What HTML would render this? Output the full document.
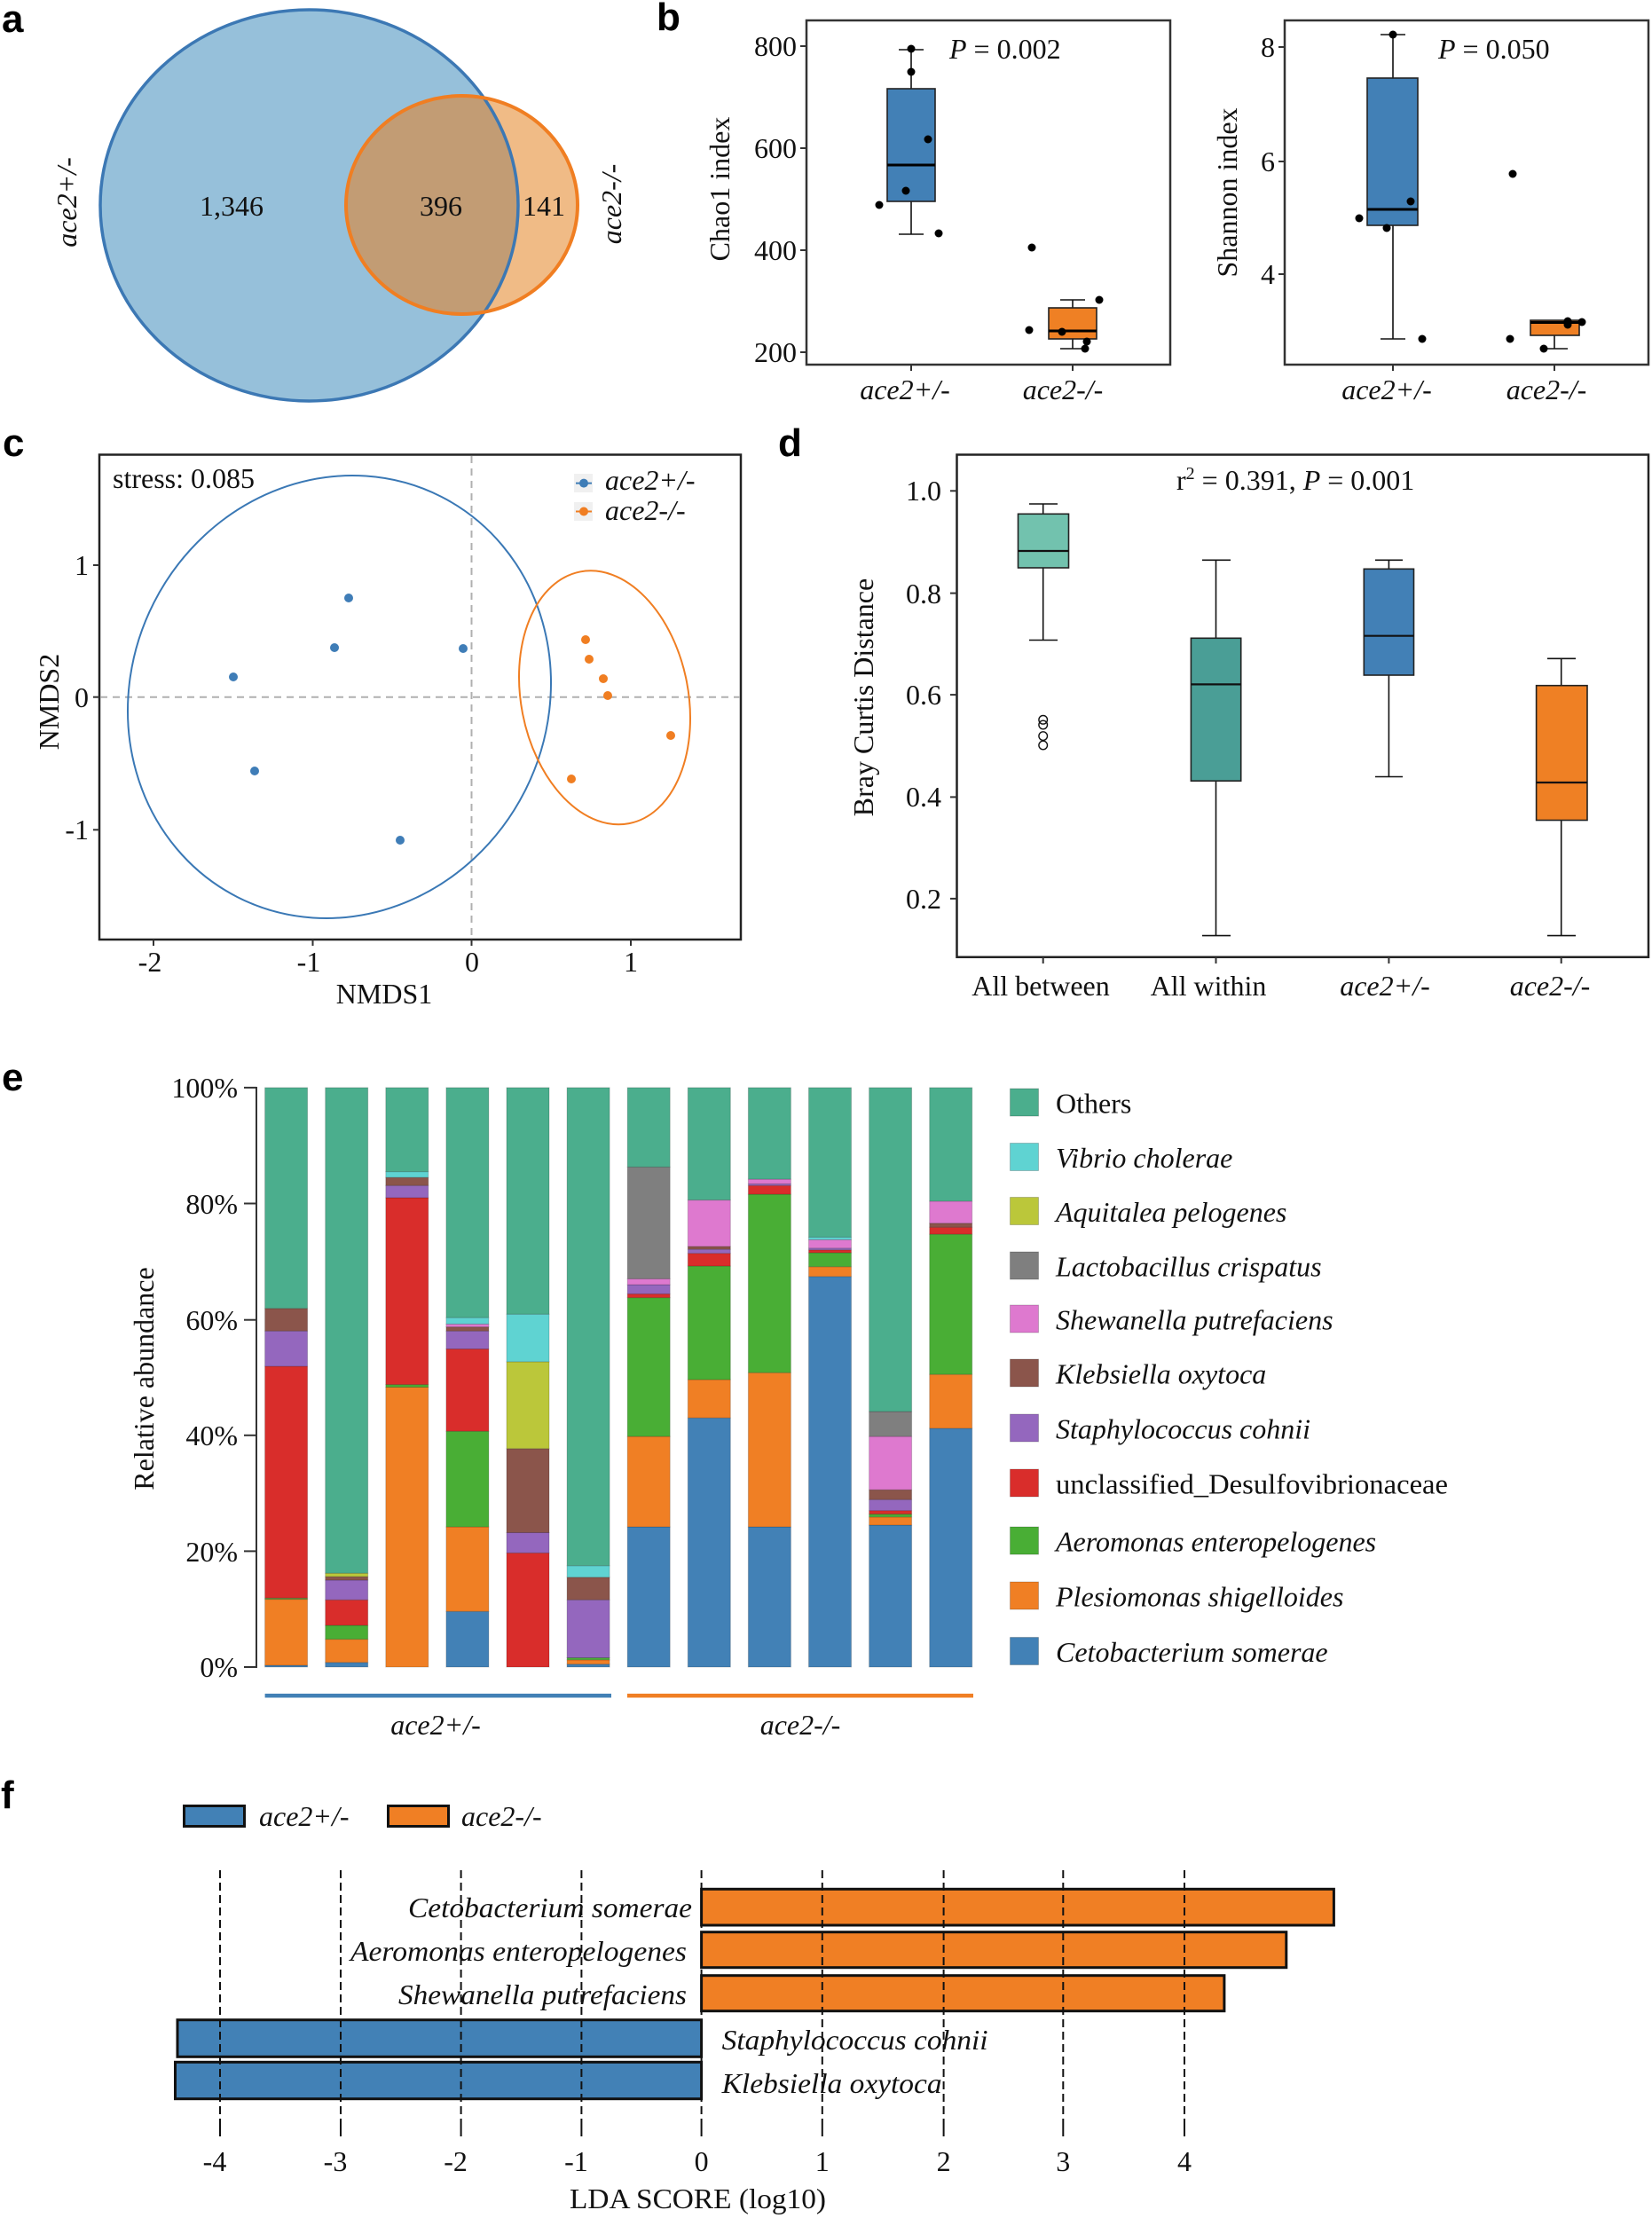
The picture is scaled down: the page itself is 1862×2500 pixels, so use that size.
<!DOCTYPE html>
<html><head><meta charset="utf-8"><style>
html,body{margin:0;padding:0;background:#fff;}
svg{display:block;}
text{font-family:"Liberation Serif",serif;font-size:32px;fill:#111;}
.lab{font-family:"Liberation Sans",sans-serif;font-weight:bold;font-size:44px;fill:#000;}
.it{font-style:italic;}
.C{fill:#4281B6}.P{fill:#F07F24}.Ae{fill:#49AE35}.U{fill:#D92D2B}.St{fill:#9467BE}.K{fill:#8B554B}
.S{fill:#DE79CF}.L{fill:#7F7F7F}.A{fill:#BBC73A}.V{fill:#5FD3D2}.O{fill:#4BAE8D}
.bar rect{stroke:rgba(0,0,0,0.18);stroke-width:1;vector-effect:non-scaling-stroke;}
</style></head><body>
<svg width="1862" height="2500" viewBox="0 0 1862 2500" xmlns="http://www.w3.org/2000/svg">
<defs>
<clipPath id="bigc"><ellipse cx="348.5" cy="231.5" rx="235.5" ry="220.5"/></clipPath>
</defs>

<!-- Panel a -->
<text class="lab" x="2" y="36">a</text>
<ellipse cx="348.5" cy="231.5" rx="235.5" ry="220.5" fill="#96C0DA"/>
<ellipse cx="520.5" cy="231" rx="130.5" ry="123" fill="#F0BB86"/>
<ellipse cx="520.5" cy="231" rx="130.5" ry="123" fill="#C29C74" clip-path="url(#bigc)"/>
<ellipse cx="348.5" cy="231.5" rx="235.5" ry="220.5" fill="none" stroke="#3C78B4" stroke-width="3.5"/>
<ellipse cx="520.5" cy="231" rx="130.5" ry="123" fill="none" stroke="#F07E22" stroke-width="4"/>
<text x="261" y="243" text-anchor="middle" font-size="35">1,346</text>
<text x="497" y="243" text-anchor="middle" font-size="35">396</text>
<text x="613" y="243" text-anchor="middle" font-size="35">141</text>
<text class="it" transform="translate(86,228) rotate(-90)" text-anchor="middle">ace2+/-</text>
<text class="it" transform="translate(700,230) rotate(-90)" text-anchor="middle">ace2-/-</text>

<!-- Panel b -->
<text class="lab" x="740" y="34">b</text>
<rect x="909" y="23" width="410" height="388" fill="none" stroke="#333" stroke-width="2.5"/>
<g stroke="#333" stroke-width="2">
<line x1="902" y1="52" x2="909" y2="52"/><line x1="902" y1="167" x2="909" y2="167"/>
<line x1="902" y1="282" x2="909" y2="282"/><line x1="902" y1="397" x2="909" y2="397"/>
<line x1="1027" y1="411" x2="1027" y2="418"/><line x1="1209" y1="411" x2="1209" y2="418"/>
</g>
<g text-anchor="end">
<text x="898" y="63">800</text><text x="898" y="178">600</text><text x="898" y="293">400</text><text x="898" y="408">200</text>
</g>
<text transform="translate(822,213) rotate(-90)" text-anchor="middle" font-size="33">Chao1 index</text>
<g stroke="#111" stroke-width="1.6">
<line x1="1027" y1="56" x2="1027" y2="100"/><line x1="1027" y1="227" x2="1027" y2="264"/>
<line x1="1013" y1="56" x2="1041" y2="56"/><line x1="1013" y1="264" x2="1041" y2="264"/>
<line x1="1209" y1="338" x2="1209" y2="347"/><line x1="1209" y1="382" x2="1209" y2="393"/>
<line x1="1195" y1="338" x2="1223" y2="338"/><line x1="1195" y1="393" x2="1223" y2="393"/>
</g>
<rect x="1000" y="100" width="54" height="127" fill="#4280B6" stroke="#222" stroke-width="1.6"/>
<line x1="1000" y1="186" x2="1054" y2="186" stroke="#000" stroke-width="3"/>
<rect x="1182" y="347" width="54" height="35" fill="#EF8024" stroke="#222" stroke-width="1.6"/>
<line x1="1182" y1="373" x2="1236" y2="373" stroke="#000" stroke-width="3"/>
<g fill="#000">
<circle cx="1027" cy="55" r="4.5"/><circle cx="1027" cy="81" r="4.5"/><circle cx="1046" cy="157" r="4.5"/>
<circle cx="1021" cy="215" r="4.5"/><circle cx="991" cy="231" r="4.5"/><circle cx="1058" cy="263" r="4.5"/>
<circle cx="1163" cy="279" r="4.5"/><circle cx="1160" cy="372" r="4.5"/><circle cx="1197" cy="374" r="4.5"/>
<circle cx="1239" cy="338" r="4.5"/><circle cx="1225" cy="385" r="4.5"/><circle cx="1223" cy="393" r="4.5"/>
</g>
<text x="1070" y="66"><tspan class="it">P</tspan> = 0.002</text>
<text class="it" x="1020" y="450" text-anchor="middle">ace2+/-</text>
<text class="it" x="1198" y="450" text-anchor="middle">ace2-/-</text>

<rect x="1448" y="23" width="410" height="388" fill="none" stroke="#333" stroke-width="2.5"/>
<g stroke="#333" stroke-width="2">
<line x1="1441" y1="53" x2="1448" y2="53"/><line x1="1441" y1="182" x2="1448" y2="182"/>
<line x1="1441" y1="309" x2="1448" y2="309"/>
<line x1="1570" y1="411" x2="1570" y2="418"/><line x1="1752" y1="411" x2="1752" y2="418"/>
</g>
<g text-anchor="end">
<text x="1437" y="64">8</text><text x="1437" y="193">6</text><text x="1437" y="320">4</text>
</g>
<text transform="translate(1394,217) rotate(-90)" text-anchor="middle" font-size="33">Shannon index</text>
<g stroke="#111" stroke-width="1.6">
<line x1="1570" y1="39" x2="1570" y2="88"/><line x1="1570" y1="254" x2="1570" y2="382"/>
<line x1="1556" y1="39" x2="1584" y2="39"/><line x1="1556" y1="382" x2="1584" y2="382"/>
<line x1="1752" y1="378" x2="1752" y2="393"/><line x1="1738" y1="393" x2="1767" y2="393"/>
</g>
<rect x="1541" y="88" width="57" height="166" fill="#4280B6" stroke="#222" stroke-width="1.6"/>
<line x1="1541" y1="236" x2="1598" y2="236" stroke="#000" stroke-width="3"/>
<rect x="1725" y="361" width="55" height="17" fill="#EF8024" stroke="#222" stroke-width="1.6"/>
<line x1="1725" y1="363.5" x2="1780" y2="363.5" stroke="#000" stroke-width="3"/>
<g fill="#000">
<circle cx="1570" cy="39" r="4.5"/><circle cx="1590" cy="227" r="4.5"/><circle cx="1532" cy="246" r="4.5"/>
<circle cx="1563" cy="257" r="4.5"/><circle cx="1603" cy="382" r="4.5"/>
<circle cx="1705" cy="196" r="4.5"/><circle cx="1702" cy="382" r="4.5"/><circle cx="1767" cy="362" r="4.5"/>
<circle cx="1767" cy="366" r="4.5"/><circle cx="1783" cy="363" r="4.5"/><circle cx="1740" cy="393" r="4.5"/>
</g>
<text x="1621" y="66"><tspan class="it">P</tspan> = 0.050</text>
<text class="it" x="1563" y="450" text-anchor="middle">ace2+/-</text>
<text class="it" x="1743" y="450" text-anchor="middle">ace2-/-</text>

<!-- Panel c -->
<text class="lab" x="3" y="514">c</text>
<rect x="112" y="512.5" width="723" height="546.5" fill="none" stroke="#222" stroke-width="2.5"/>
<g stroke="#b0b0b0" stroke-width="2" stroke-dasharray="8,6">
<line x1="531.5" y1="514" x2="531.5" y2="1058"/>
<line x1="113" y1="785.7" x2="834" y2="785.7"/>
</g>
<g stroke="#333" stroke-width="2">
<line x1="173" y1="1059" x2="173" y2="1066"/><line x1="352.5" y1="1059" x2="352.5" y2="1066"/>
<line x1="531.5" y1="1059" x2="531.5" y2="1066"/><line x1="711" y1="1059" x2="711" y2="1066"/>
<line x1="105" y1="637" x2="112" y2="637"/><line x1="105" y1="785.7" x2="112" y2="785.7"/><line x1="105" y1="935.3" x2="112" y2="935.3"/>
</g>
<g text-anchor="middle">
<text x="169" y="1095">-2</text><text x="348" y="1095">-1</text><text x="532" y="1095">0</text><text x="711" y="1095">1</text>
</g>
<g text-anchor="end">
<text x="100" y="648">1</text><text x="100" y="797">0</text><text x="100" y="946">-1</text>
</g>
<text x="433" y="1131" text-anchor="middle">NMDS1</text>
<text transform="translate(66,791) rotate(-90)" text-anchor="middle">NMDS2</text>
<text x="127" y="550">stress: 0.085</text>
<ellipse cx="0" cy="0" rx="234.5" ry="253.2" transform="translate(382.5,785.5) rotate(27)" fill="none" stroke="#3A78B5" stroke-width="2"/>
<ellipse cx="0" cy="0" rx="94.2" ry="144.5" transform="translate(681.5,786.3) rotate(-11)" fill="none" stroke="#F07E22" stroke-width="2"/>
<g fill="#3F7DB7">
<circle cx="263" cy="763" r="5"/><circle cx="287" cy="869" r="5"/><circle cx="393" cy="674" r="5"/>
<circle cx="377" cy="730" r="5"/><circle cx="522" cy="731" r="5"/><circle cx="451" cy="947" r="5"/>
</g>
<g fill="#F07E22">
<circle cx="660" cy="721" r="5"/><circle cx="664" cy="743" r="5"/><circle cx="680" cy="765" r="5"/>
<circle cx="685" cy="784" r="5"/><circle cx="756" cy="829" r="5"/><circle cx="644" cy="878" r="5"/>
</g>
<rect x="647" y="534" width="21" height="21" fill="#f0f0f0"/>
<rect x="647" y="566" width="21" height="21" fill="#f0f0f0"/>
<line x1="649" y1="544.6" x2="667" y2="544.6" stroke="#3F7DB7" stroke-width="2"/>
<circle cx="658" cy="544.6" r="5" fill="#3F7DB7"/>
<line x1="649" y1="576.5" x2="667" y2="576.5" stroke="#F07E22" stroke-width="2"/>
<circle cx="658" cy="576.5" r="5" fill="#F07E22"/>
<text class="it" x="682" y="552">ace2+/-</text>
<text class="it" x="682" y="586">ace2-/-</text>

<!-- Panel d -->
<text class="lab" x="877" y="514">d</text>
<rect x="1078.5" y="512.5" width="779.5" height="566.3" fill="none" stroke="#222" stroke-width="2.5"/>
<g stroke="#333" stroke-width="2">
<line x1="1071" y1="553.3" x2="1078.5" y2="553.3"/><line x1="1071" y1="668.6" x2="1078.5" y2="668.6"/>
<line x1="1071" y1="783.1" x2="1078.5" y2="783.1"/><line x1="1071" y1="898.4" x2="1078.5" y2="898.4"/>
<line x1="1071" y1="1012.9" x2="1078.5" y2="1012.9"/>
<line x1="1175.7" y1="1079" x2="1175.7" y2="1086"/><line x1="1370.5" y1="1079" x2="1370.5" y2="1086"/>
<line x1="1565.4" y1="1079" x2="1565.4" y2="1086"/><line x1="1759.7" y1="1079" x2="1759.7" y2="1086"/>
</g>
<g text-anchor="end">
<text x="1061" y="564">1.0</text><text x="1061" y="680">0.8</text><text x="1061" y="794">0.6</text>
<text x="1061" y="909">0.4</text><text x="1061" y="1024">0.2</text>
</g>
<text transform="translate(984,786) rotate(-90)" text-anchor="middle">Bray Curtis Distance</text>
<text x="1326" y="552">r<tspan font-size="20" dy="-12">2</tspan><tspan dy="12"> = 0.391, </tspan><tspan class="it">P</tspan> = 0.001</text>
<g stroke="#111" stroke-width="1.6">
<line x1="1175.7" y1="568" x2="1175.7" y2="579.3"/><line x1="1175.7" y1="640" x2="1175.7" y2="721.5"/>
<line x1="1160" y1="568" x2="1192" y2="568"/><line x1="1160" y1="721.5" x2="1192" y2="721.5"/>
<line x1="1370.5" y1="631.3" x2="1370.5" y2="719.3"/><line x1="1370.5" y1="880.2" x2="1370.5" y2="1054.6"/>
<line x1="1355" y1="631.3" x2="1387" y2="631.3"/><line x1="1355" y1="1054.6" x2="1387" y2="1054.6"/>
<line x1="1565.4" y1="631.3" x2="1565.4" y2="641.3"/><line x1="1565.4" y1="761" x2="1565.4" y2="875.5"/>
<line x1="1550" y1="631.3" x2="1581" y2="631.3"/><line x1="1550" y1="875.5" x2="1581" y2="875.5"/>
<line x1="1759.7" y1="742.3" x2="1759.7" y2="772.7"/><line x1="1759.7" y1="924.5" x2="1759.7" y2="1054.6"/>
<line x1="1744" y1="742.3" x2="1776" y2="742.3"/><line x1="1744" y1="1054.6" x2="1776" y2="1054.6"/>
</g>
<rect x="1147.5" y="579.3" width="57" height="60.7" fill="#72C2AE" stroke="#222" stroke-width="1.6"/>
<line x1="1147.5" y1="621" x2="1204.5" y2="621" stroke="#111" stroke-width="2.2"/>
<rect x="1342.4" y="719.3" width="56.3" height="160.9" fill="#4A9E96" stroke="#222" stroke-width="1.6"/>
<line x1="1342.4" y1="771.4" x2="1398.7" y2="771.4" stroke="#111" stroke-width="2.2"/>
<rect x="1537.3" y="641.3" width="56.2" height="119.7" fill="#4280B6" stroke="#222" stroke-width="1.6"/>
<line x1="1537.3" y1="716.7" x2="1593.5" y2="716.7" stroke="#111" stroke-width="2.2"/>
<rect x="1731.6" y="772.7" width="57.4" height="151.8" fill="#EF8024" stroke="#222" stroke-width="1.6"/>
<line x1="1731.6" y1="882" x2="1789" y2="882" stroke="#111" stroke-width="2.2"/>
<g fill="none" stroke="#111" stroke-width="1.4">
<circle cx="1175.7" cy="811.3" r="4.8"/><circle cx="1175.7" cy="817" r="4.8"/>
<circle cx="1175.7" cy="829.6" r="4.8"/><circle cx="1175.7" cy="840" r="4.8"/>
</g>
<g text-anchor="middle">
<text x="1173" y="1122">All between</text>
<text x="1362" y="1122">All within</text>
<text class="it" x="1561" y="1122">ace2+/-</text>
<text class="it" x="1747" y="1122">ace2-/-</text>
</g>

<!-- Panel e -->
<text class="lab" x="2" y="1229">e</text>
<line x1="289" y1="1225" x2="289" y2="1880" stroke="#333" stroke-width="2"/>
<g stroke="#333" stroke-width="2">
<line x1="275" y1="1225.9" x2="289" y2="1225.9"/><line x1="275" y1="1356.5" x2="289" y2="1356.5"/>
<line x1="275" y1="1487.7" x2="289" y2="1487.7"/><line x1="275" y1="1617.8" x2="289" y2="1617.8"/>
<line x1="275" y1="1748.4" x2="289" y2="1748.4"/><line x1="275" y1="1879" x2="289" y2="1879"/>
</g>
<g text-anchor="end">
<text x="268" y="1237">100%</text><text x="268" y="1368">80%</text><text x="268" y="1499">60%</text>
<text x="268" y="1629">40%</text><text x="268" y="1760">20%</text><text x="268" y="1890">0%</text>
</g>
<text transform="translate(173,1554) rotate(-90)" text-anchor="middle">Relative abundance</text>

<g class="bar" transform="translate(298.6,1879) scale(1,-6.531)">
<rect class="C" x="0" y="0" width="48" height="0.3"/><rect class="P" x="0" y="0.3" width="48" height="11.4"/>
<rect class="Ae" x="0" y="11.7" width="48" height="0.2"/><rect class="U" x="0" y="11.9" width="48" height="40"/>
<rect class="St" x="0" y="51.9" width="48" height="6.1"/><rect class="K" x="0" y="58" width="48" height="3.9"/>
<rect class="O" x="0" y="61.9" width="48" height="38.1"/>
</g>
<g class="bar" transform="translate(366.7,1879) scale(1,-6.531)">
<rect class="C" x="0" y="0" width="48" height="0.8"/><rect class="P" x="0" y="0.8" width="48" height="4"/>
<rect class="Ae" x="0" y="4.8" width="48" height="2.4"/><rect class="U" x="0" y="7.2" width="48" height="4.4"/>
<rect class="St" x="0" y="11.6" width="48" height="3.4"/><rect class="K" x="0" y="15" width="48" height="0.6"/>
<rect class="A" x="0" y="15.6" width="48" height="0.6"/><rect class="O" x="0" y="16.2" width="48" height="83.8"/>
</g>
<g class="bar" transform="translate(434.8,1879) scale(1,-6.531)">
<rect class="P" x="0" y="0" width="48" height="48.3"/><rect class="Ae" x="0" y="48.3" width="48" height="0.45"/>
<rect class="U" x="0" y="48.75" width="48" height="32.25"/><rect class="St" x="0" y="81" width="48" height="2.1"/>
<rect class="K" x="0" y="83.1" width="48" height="1.4"/><rect class="V" x="0" y="84.5" width="48" height="1"/>
<rect class="O" x="0" y="85.5" width="48" height="14.5"/>
</g>
<g class="bar" transform="translate(502.9,1879) scale(1,-6.531)">
<rect class="C" x="0" y="0" width="48" height="9.6"/><rect class="P" x="0" y="9.6" width="48" height="14.6"/>
<rect class="Ae" x="0" y="24.2" width="48" height="16.5"/><rect class="U" x="0" y="40.7" width="48" height="14.2"/>
<rect class="St" x="0" y="54.9" width="48" height="3.1"/><rect class="K" x="0" y="58" width="48" height="0.7"/>
<rect class="S" x="0" y="58.7" width="48" height="0.5"/><rect class="V" x="0" y="59.2" width="48" height="1.1"/>
<rect class="O" x="0" y="60.3" width="48" height="39.7"/>
</g>
<g class="bar" transform="translate(571,1879) scale(1,-6.531)">
<rect class="U" x="0" y="0" width="48" height="19.7"/><rect class="St" x="0" y="19.7" width="48" height="3.5"/>
<rect class="K" x="0" y="23.2" width="48" height="14.5"/><rect class="A" x="0" y="37.7" width="48" height="15"/>
<rect class="V" x="0" y="52.7" width="48" height="8.2"/><rect class="O" x="0" y="60.9" width="48" height="39.1"/>
</g>
<g class="bar" transform="translate(639.1,1879) scale(1,-6.531)">
<rect class="C" x="0" y="0" width="48" height="0.5"/><rect class="P" x="0" y="0.5" width="48" height="0.75"/>
<rect class="Ae" x="0" y="1.25" width="48" height="0.35"/><rect class="St" x="0" y="1.6" width="48" height="10"/>
<rect class="K" x="0" y="11.6" width="48" height="3.9"/><rect class="V" x="0" y="15.5" width="48" height="2"/>
<rect class="O" x="0" y="17.5" width="48" height="82.5"/>
</g>
<g class="bar" transform="translate(707.2,1879) scale(1,-6.531)">
<rect class="C" x="0" y="0" width="48" height="24.2"/><rect class="P" x="0" y="24.2" width="48" height="15.6"/>
<rect class="Ae" x="0" y="39.8" width="48" height="23.95"/><rect class="U" x="0" y="63.75" width="48" height="0.65"/>
<rect class="St" x="0" y="64.4" width="48" height="1.6"/><rect class="S" x="0" y="66" width="48" height="1"/>
<rect class="L" x="0" y="67" width="48" height="19.3"/><rect class="O" x="0" y="86.3" width="48" height="13.7"/>
</g>
<g class="bar" transform="translate(775.3,1879) scale(1,-6.531)">
<rect class="C" x="0" y="0" width="48" height="43"/><rect class="P" x="0" y="43" width="48" height="6.6"/>
<rect class="Ae" x="0" y="49.6" width="48" height="19.6"/><rect class="U" x="0" y="69.2" width="48" height="2.2"/>
<rect class="St" x="0" y="71.4" width="48" height="0.7"/><rect class="K" x="0" y="72.1" width="48" height="0.5"/>
<rect class="S" x="0" y="72.6" width="48" height="8"/><rect class="O" x="0" y="80.6" width="48" height="19.4"/>
</g>
<g class="bar" transform="translate(843.4,1879) scale(1,-6.531)">
<rect class="C" x="0" y="0" width="48" height="24.2"/><rect class="P" x="0" y="24.2" width="48" height="26.6"/>
<rect class="Ae" x="0" y="50.8" width="48" height="30.8"/><rect class="U" x="0" y="81.6" width="48" height="1.5"/>
<rect class="St" x="0" y="83.1" width="48" height="0.3"/><rect class="S" x="0" y="83.4" width="48" height="0.8"/>
<rect class="O" x="0" y="84.2" width="48" height="15.8"/>
</g>
<g class="bar" transform="translate(911.5,1879) scale(1,-6.531)">
<rect class="C" x="0" y="0" width="48" height="67.4"/><rect class="P" x="0" y="67.4" width="48" height="1.7"/>
<rect class="Ae" x="0" y="69.1" width="48" height="2.4"/><rect class="U" x="0" y="71.5" width="48" height="0.5"/>
<rect class="St" x="0" y="72" width="48" height="0.3"/><rect class="S" x="0" y="72.3" width="48" height="1.45"/>
<rect class="V" x="0" y="73.75" width="48" height="0.45"/><rect class="O" x="0" y="74.2" width="48" height="25.8"/>
</g>
<g class="bar" transform="translate(979.6,1879) scale(1,-6.531)">
<rect class="C" x="0" y="0" width="48" height="24.5"/><rect class="P" x="0" y="24.5" width="48" height="1.4"/>
<rect class="Ae" x="0" y="25.9" width="48" height="0.5"/><rect class="U" x="0" y="26.4" width="48" height="0.6"/>
<rect class="St" x="0" y="27" width="48" height="1.9"/><rect class="K" x="0" y="28.9" width="48" height="1.7"/>
<rect class="S" x="0" y="30.6" width="48" height="9.2"/><rect class="L" x="0" y="39.8" width="48" height="4.3"/>
<rect class="O" x="0" y="44.1" width="48" height="55.9"/>
</g>
<g class="bar" transform="translate(1047.7,1879) scale(1,-6.531)">
<rect class="C" x="0" y="0" width="48" height="41.2"/><rect class="P" x="0" y="41.2" width="48" height="9.3"/>
<rect class="Ae" x="0" y="50.5" width="48" height="24.2"/><rect class="U" x="0" y="74.7" width="48" height="1.2"/>
<rect class="K" x="0" y="75.9" width="48" height="0.7"/><rect class="S" x="0" y="76.6" width="48" height="3.8"/>
<rect class="O" x="0" y="80.4" width="48" height="19.6"/>
</g>

<rect x="298.6" y="1909" width="390.4" height="4.5" fill="#4281B6"/>
<rect x="707" y="1909" width="390" height="4.5" fill="#F07F24"/>
<text class="it" x="491" y="1955" text-anchor="middle">ace2+/-</text>
<text class="it" x="902" y="1955" text-anchor="middle">ace2-/-</text>

<g stroke="rgba(0,0,0,0.2)" stroke-width="1">
<rect class="O" x="1138.5" y="1227" width="32" height="31"/>
<rect class="V" x="1138.5" y="1288.5" width="32" height="31"/>
<rect class="A" x="1138.5" y="1349.5" width="32" height="31"/>
<rect class="L" x="1138.5" y="1411" width="32" height="31"/>
<rect class="S" x="1138.5" y="1471" width="32" height="31"/>
<rect class="K" x="1138.5" y="1532" width="32" height="31"/>
<rect class="St" x="1138.5" y="1594" width="32" height="31"/>
<rect class="U" x="1138.5" y="1656" width="32" height="31"/>
<rect class="Ae" x="1138.5" y="1721" width="32" height="31"/>
<rect class="P" x="1138.5" y="1783" width="32" height="31"/>
<rect class="C" x="1138.5" y="1845.5" width="32" height="31"/>
</g>
<g font-size="33.2">
<text x="1190" y="1254.5">Others</text>
<text x="1190" y="1683.5" textLength="442" lengthAdjust="spacingAndGlyphs">unclassified_Desulfovibrionaceae</text>
</g>
<g font-size="34.5">
<text class="it" x="1190" y="1316">Vibrio cholerae</text>
<text class="it" x="1190" y="1377">Aquitalea pelogenes</text>
<text class="it" x="1190" y="1438.5">Lactobacillus crispatus</text>
<text class="it" x="1190" y="1498.5">Shewanella putrefaciens</text>
<text class="it" x="1190" y="1559.5">Klebsiella oxytoca</text>
<text class="it" x="1190" y="1621.5">Staphylococcus cohnii</text>
<text class="it" x="1190" y="1748.5">Aeromonas enteropelogenes</text>
<text class="it" x="1190" y="1810.5">Plesiomonas shigelloides</text>
<text class="it" x="1190" y="1873">Cetobacterium somerae</text>
</g>

<!-- Panel f -->
<text class="lab" x="1" y="2038">f</text>
<rect x="207.5" y="2035.5" width="68" height="23" fill="#4281B6" stroke="#111" stroke-width="3"/>
<text class="it" x="292" y="2058">ace2+/-</text>
<rect x="437.5" y="2035.5" width="68" height="23" fill="#F07F24" stroke="#111" stroke-width="3"/>
<text class="it" x="520" y="2058">ace2-/-</text>

<g stroke="#111" stroke-width="3">
<rect x="790.6" y="2129.3" width="712.8" height="40.7" fill="#F07F24"/>
<rect x="790.6" y="2177.7" width="659.2" height="40" fill="#F07F24"/>
<rect x="790.6" y="2226.7" width="589.3" height="40" fill="#F07F24"/>
<rect x="200" y="2276.7" width="590.6" height="41.6" fill="#4281B6"/>
<rect x="197.5" y="2324.3" width="593.1" height="41.4" fill="#4281B6"/>
</g>
<g font-size="34.5">
<text class="it" x="460" y="2161" textLength="320" lengthAdjust="spacingAndGlyphs">Cetobacterium somerae</text>
<text class="it" x="395" y="2210" textLength="379" lengthAdjust="spacingAndGlyphs">Aeromonas enteropelogenes</text>
<text class="it" x="449" y="2259" textLength="325" lengthAdjust="spacingAndGlyphs">Shewanella putrefaciens</text>
<text class="it" x="813.6" y="2310" textLength="300" lengthAdjust="spacingAndGlyphs">Staphylococcus cohnii</text>
<text class="it" x="813.6" y="2359" textLength="248" lengthAdjust="spacingAndGlyphs">Klebsiella oxytoca</text>
</g>
<g stroke="#111" stroke-width="2" stroke-dasharray="9,5">
<line x1="248" y1="2108" x2="248" y2="2395"/><line x1="384" y1="2108" x2="384" y2="2395"/>
<line x1="519.6" y1="2108" x2="519.6" y2="2395"/><line x1="655.4" y1="2108" x2="655.4" y2="2395"/>
<line x1="790.6" y1="2108" x2="790.6" y2="2395"/><line x1="926.8" y1="2108" x2="926.8" y2="2395"/>
<line x1="1063.6" y1="2108" x2="1063.6" y2="2395"/><line x1="1198.3" y1="2108" x2="1198.3" y2="2395"/>
<line x1="1335" y1="2108" x2="1335" y2="2395"/>
</g>
<g stroke="#111" stroke-width="2">
<line x1="248" y1="2395" x2="248" y2="2408"/><line x1="384" y1="2395" x2="384" y2="2408"/>
<line x1="519.6" y1="2395" x2="519.6" y2="2408"/><line x1="655.4" y1="2395" x2="655.4" y2="2408"/>
<line x1="790.6" y1="2395" x2="790.6" y2="2408"/><line x1="926.8" y1="2395" x2="926.8" y2="2408"/>
<line x1="1063.6" y1="2395" x2="1063.6" y2="2408"/><line x1="1198.3" y1="2395" x2="1198.3" y2="2408"/>
<line x1="1335" y1="2395" x2="1335" y2="2408"/>
</g>
<g text-anchor="middle">
<text x="242" y="2447">-4</text><text x="378" y="2447">-3</text><text x="513.6" y="2447">-2</text>
<text x="649.4" y="2447">-1</text><text x="790.6" y="2447">0</text><text x="926.8" y="2447">1</text>
<text x="1063.6" y="2447">2</text><text x="1198.3" y="2447">3</text><text x="1335" y="2447">4</text>
</g>
<text x="642" y="2489" font-size="31" textLength="289" lengthAdjust="spacingAndGlyphs">LDA SCORE (log10)</text>
</svg>
</body></html>
